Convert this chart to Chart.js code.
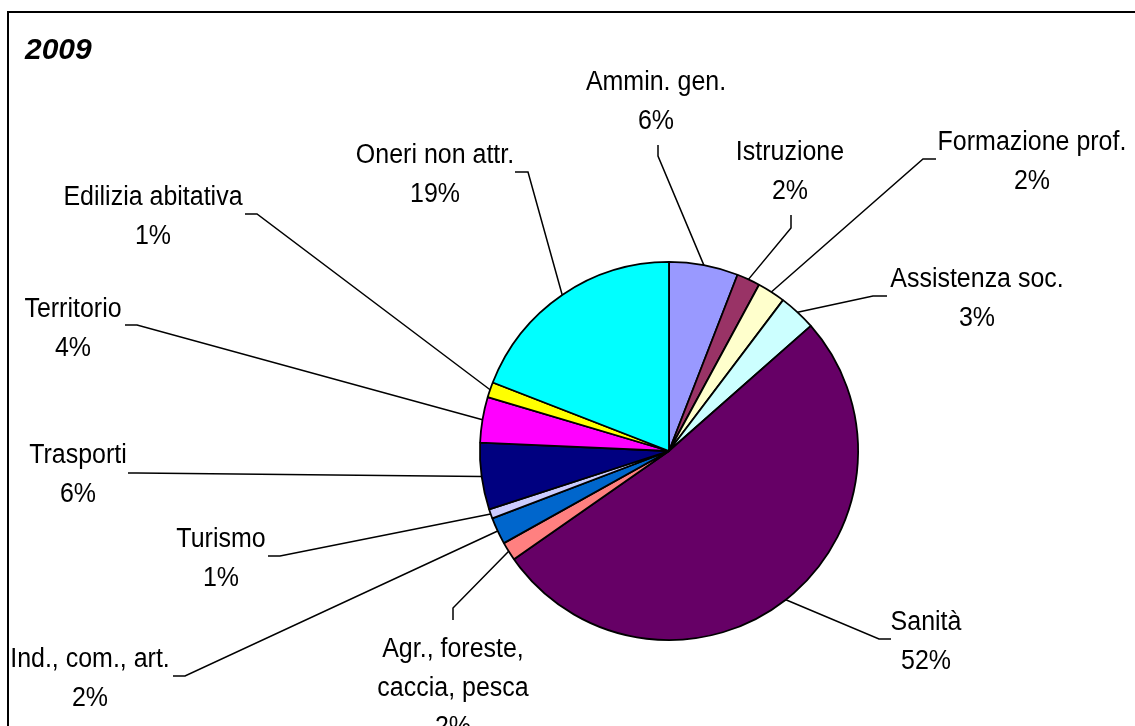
<!DOCTYPE html>
<html>
<head>
<meta charset="utf-8">
<script src="https://cdn.jsdelivr.net/npm/chart.js@4"></script>
<style>
  html, body { margin: 0; padding: 0; background: #fff; }
  #wrap { width: 1135px; height: 726px; }
</style>
</head>
<body>
<div id="wrap"><canvas id="pie" width="1135" height="726"></canvas></div>
<script>
const chartTitle = '2009';
const categories = ['Ammin. gen.', 'Istruzione', 'Formazione prof.', 'Assistenza soc.', 'Sanità',
  'Agr., foreste,\ncaccia, pesca', 'Ind., com., art.', 'Turismo', 'Trasporti', 'Territorio',
  'Edilizia abitativa', 'Oneri non attr.'];
const shares = [5.9, 2.0, 2.4, 3.2, 51.8, 1.6, 2.3, 0.8, 5.7, 3.9, 1.3, 19.1];
const sliceColors = ['#9999FF', '#993366', '#FFFFCC', '#CCFFFF', '#660066', '#FF8080',
  '#0066CC', '#CCCCFF', '#000080', '#FF00FF', '#FFFF00', '#00FFFF'];

// where each label sits (centre of its first line) and how its leader bends
const labelLayout = [
  { x: 656, y: 80,  elbow: [658, 156], end: [658, 145] },
  { x: 790, y: 150, elbow: [791, 228], end: [791, 215] },
  { x: 1032, y: 140, elbow: [923, 159], end: [936, 159] },
  { x: 977, y: 277, elbow: [873, 296], end: [887, 296] },
  { x: 926, y: 620, elbow: [879, 639], end: [891, 639] },
  { x: 453, y: 647, elbow: [453, 608], end: [453, 620] },
  { x: 90,  y: 657, elbow: [185, 676], end: [173, 676] },
  { x: 221, y: 537, elbow: [280, 556], end: [268, 556] },
  { x: 78,  y: 453, elbow: [137, 473], end: [128, 473] },
  { x: 73,  y: 307, elbow: [137, 325], end: [125, 325] },
  { x: 153, y: 195, elbow: [257, 214], end: [245, 214] },
  { x: 435, y: 153, elbow: [528, 172], end: [515, 172] }
];

const total = shares.reduce((a, b) => a + b, 0);
const pctText = shares.map(v => Math.round(v / total * 100) + '%');

const framePlugin = {
  id: 'frame',
  beforeDraw(chart) {
    const ctx = chart.ctx;
    ctx.save();
    ctx.fillStyle = '#fff';
    ctx.fillRect(0, 0, chart.width, chart.height);
    ctx.strokeStyle = '#000';
    ctx.lineWidth = 2;
    ctx.strokeRect(8, 12, chart.width + 20, chart.height + 20);
    ctx.font = 'italic bold 30px "Liberation Sans", Arial, sans-serif';
    ctx.fillStyle = '#000';
    ctx.textBaseline = 'alphabetic';
    ctx.fillText(chartTitle, 25, 59);
    ctx.restore();
  }
};

const labelPlugin = {
  id: 'sliceLabels',
  afterDraw(chart) {
    const ctx = chart.ctx;
    const arcs = chart.getDatasetMeta(0).data;
    const squeeze = 0.925;
    ctx.save();
    ctx.strokeStyle = '#000';
    ctx.lineWidth = 1.5;
    ctx.fillStyle = '#000';
    arcs.forEach((arc, i) => {
      const p = arc.getProps(['x', 'y', 'startAngle', 'endAngle', 'outerRadius'], true);
      const mid = (p.startAngle + p.endAngle) / 2;
      const L = labelLayout[i];
      ctx.beginPath();
      ctx.moveTo(p.x + Math.cos(mid) * p.outerRadius, p.y + Math.sin(mid) * p.outerRadius);
      ctx.lineTo(L.elbow[0], L.elbow[1]);
      ctx.lineTo(L.end[0], L.end[1]);
      ctx.stroke();
      // the original text is a tall, slightly condensed Arial
      const lines = categories[i].split('\n').concat([pctText[i]]);
      ctx.save();
      ctx.translate(L.x, L.y);
      ctx.scale(squeeze, 1);
      ctx.font = '27px "Liberation Sans", Arial, sans-serif';
      ctx.textAlign = 'center';
      ctx.textBaseline = 'alphabetic';
      lines.forEach((t, k) => {
        ctx.fillText(t, 0, 10 + k * 39);
      });
      ctx.restore();
    });
    ctx.restore();
  }
};

new Chart(document.getElementById('pie'), {
  type: 'pie',
  data: {
    labels: categories,
    datasets: [{
      data: shares,
      backgroundColor: sliceColors,
      borderColor: '#000',
      borderWidth: 1.8
    }]
  },
  options: {
    responsive: false,
    animation: false,
    layout: { padding: { left: 479, right: 276, top: 261, bottom: 85 } },
    plugins: {
      legend: { display: false },
      tooltip: { enabled: false }
    }
  },
  plugins: [framePlugin, labelPlugin]
});
</script>
</body>
</html>
